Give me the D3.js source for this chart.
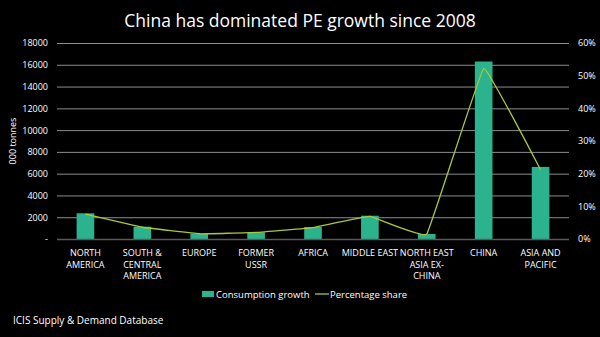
<!DOCTYPE html>
<html>
<head>
<meta charset="utf-8">
<script src="https://cdn.jsdelivr.net/npm/d3@7"></script>
<style>
  body { margin: 0; background: #000; }
  svg { display: block; font-family: "Open Sans", "Liberation Sans", sans-serif; }
</style>
</head>
<body>
<svg width="600" height="337"></svg>
<script>
const regions = ['NORTH AMERICA', 'SOUTH & CENTRAL AMERICA', 'EUROPE', 'FORMER USSR', 'AFRICA',
  'MIDDLE EAST', 'NORTH EAST ASIA EX-CHINA', 'CHINA', 'ASIA AND PACIFIC'];
// wrapped tick text, one entry per region
const regionLines = [
  ['NORTH', 'AMERICA'], ['SOUTH &', 'CENTRAL', 'AMERICA'], ['EUROPE'], ['FORMER', 'USSR'], ['AFRICA'],
  ['MIDDLE EAST'], ['NORTH EAST', 'ASIA EX-', 'CHINA'], ['CHINA'], ['ASIA AND', 'PACIFIC']
];
const growth = [2360, 1130, 490, 615, 1100, 2140, 460, 16300, 6620];   // 000 tonnes
const share = [7.6, 3.6, 1.6, 2.0, 3.5, 6.9, 1.5, 52.2, 21.2];          // %
const leftTicks = [0, 2000, 4000, 6000, 8000, 10000, 12000, 14000, 16000, 18000];
const rightTicks = [0, 10, 20, 30, 40, 50, 60];

const svg = d3.select('svg');
const plotL = 57, plotR = 569, plotT = 43, plotB = 239;

const x = d3.scaleBand().domain(regions).range([plotL, plotR]);
const yL = d3.scaleLinear().domain([0, 18000]).range([plotB, plotT]);
const yR = d3.scaleLinear().domain([0, 60]).range([plotB, plotT]);

svg.append('text')
  .attr('x', 300).attr('y', 27)
  .attr('text-anchor', 'middle')
  .attr('fill', '#fff')
  .attr('font-size', 17.5)
  .text('China has dominated PE growth since 2008');

// horizontal gridlines
svg.append('g')
  .selectAll('line')
  .data(leftTicks.slice(1))
  .join('line')
  .attr('x1', plotL).attr('x2', plotR)
  .attr('y1', d => yL(d) + 0.5).attr('y2', d => yL(d) + 0.5)
  .attr('stroke', '#8c8c8c').attr('stroke-width', 1);

// left axis
const axL = svg.append('g')
  .attr('transform', `translate(${plotL - 9},0)`)
  .call(d3.axisLeft(yL).tickValues(leftTicks).tickSize(0).tickPadding(0)
    .tickFormat(d => d === 0 ? '-' : d));
axL.select('.domain').remove();
axL.selectAll('text').attr('fill', '#fff').attr('font-size', 9).attr('font-family', 'Open Sans');

// right axis
const axR = svg.append('g')
  .attr('transform', `translate(${plotR + 9},0)`)
  .call(d3.axisRight(yR).tickValues(rightTicks).tickSize(0).tickPadding(0)
    .tickFormat(d => d + '%'));
axR.select('.domain').remove();
axR.selectAll('text').attr('fill', '#fff').attr('font-size', 9).attr('font-family', 'Open Sans');

svg.append('text')
  .attr('transform', `translate(16,${(plotT + plotB) / 2}) rotate(-90)`)
  .attr('text-anchor', 'middle')
  .attr('fill', '#fff')
  .attr('font-size', 9)
  .text('000 tonnes');

// bars
const barW = x.bandwidth() * 0.31;
svg.append('g')
  .selectAll('rect')
  .data(growth)
  .join('rect')
  .attr('x', (d, i) => x(regions[i]) + x.bandwidth() / 2 - barW / 2)
  .attr('y', d => yL(d))
  .attr('width', barW)
  .attr('height', d => plotB - yL(d))
  .attr('fill', '#2bb38d');

// baseline
svg.append('line')
  .attr('x1', plotL).attr('x2', plotR)
  .attr('y1', plotB + 0.5).attr('y2', plotB + 0.5)
  .attr('stroke', '#595959').attr('stroke-width', 1.5);

// percentage share line, lightly smoothed
const line = d3.line()
  .x((d, i) => x(regions[i]) + x.bandwidth() / 2)
  .y(d => yR(d))
  .curve(d3.curveCardinal.tension(0.82));
svg.append('path')
  .datum(share)
  .attr('d', line)
  .attr('fill', 'none')
  .attr('stroke', '#a9c93a')
  .attr('stroke-width', 1.3);

// category labels
const cat = svg.append('g')
  .selectAll('text')
  .data(regionLines)
  .join('text')
  .attr('text-anchor', 'middle')
  .attr('fill', '#fff')
  .attr('font-size', 9)
  .attr('transform', (d, i) => `translate(${x(regions[i]) + x.bandwidth() / 2},${plotB + 17})`);
cat.selectAll('tspan')
  .data(d => d)
  .join('tspan')
  .attr('x', 0)
  .attr('dy', (d, i) => i === 0 ? 0 : 11.7)
  .text(d => d);

// legend
const lg = svg.append('g').attr('transform', 'translate(202,294)');
lg.append('rect').attr('x', 0).attr('y', -3).attr('width', 12).attr('height', 6).attr('fill', '#2bb38d');
lg.append('text').attr('x', 14).attr('y', 3.5).attr('fill', '#fff').attr('font-size', 9.5).text('Consumption growth');
lg.append('line').attr('x1', 113).attr('x2', 127).attr('y1', 0).attr('y2', 0)
  .attr('stroke', '#a9c93a').attr('stroke-width', 1.3);
lg.append('text').attr('x', 128).attr('y', 3.5).attr('fill', '#fff').attr('font-size', 9.5).text('Percentage share');

svg.append('text')
  .attr('x', 13).attr('y', 324)
  .attr('fill', '#fff')
  .attr('font-size', 10)
  .text('ICIS Supply & Demand Database');
</script>
</body>
</html>
